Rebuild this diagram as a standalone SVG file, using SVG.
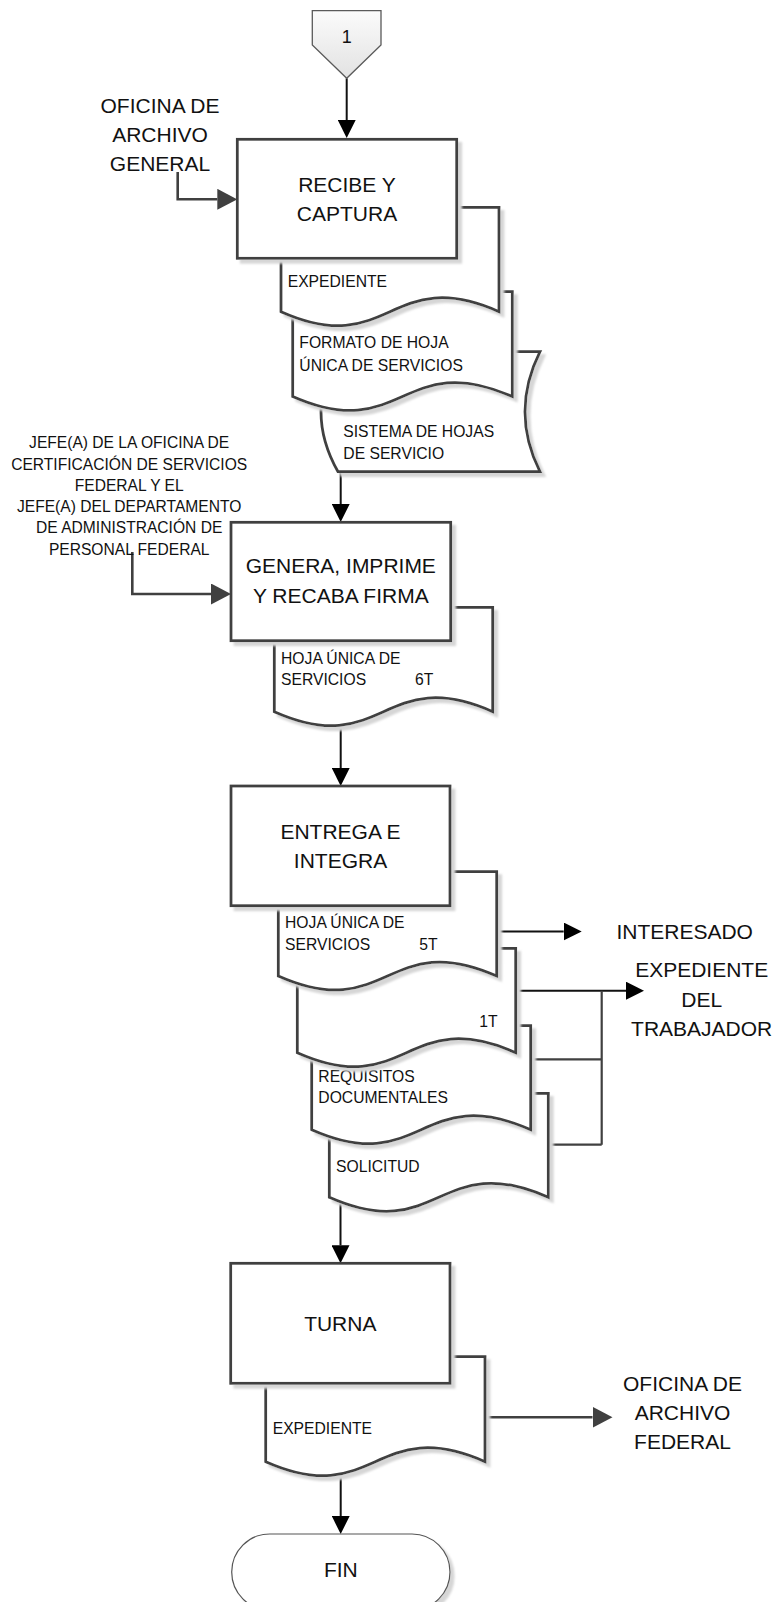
<svg xmlns="http://www.w3.org/2000/svg" width="778" height="1602" viewBox="0 0 778 1602">
<style>
text{font-family:"Liberation Sans",Arial,sans-serif;fill:#111}
.big{font-size:21px;text-anchor:middle}
.doc{font-size:15.7px}
.jefe{font-size:15.6px;text-anchor:middle}
.shape{fill:#fff;stroke:#404040;stroke-width:2.75;stroke-linejoin:miter;filter:url(#sh)}
.ln{fill:none;stroke:#111;stroke-width:2}
.lg{fill:none;stroke:#404040;stroke-width:2.6}
.lb{fill:none;stroke:#404040;stroke-width:2.2}
</style>
<defs>
<filter id="sh" x="-10%" y="-10%" width="130%" height="130%">
<feDropShadow dx="4" dy="4" stdDeviation="0.8" flood-color="#d6d6d6" flood-opacity="1"/>
</filter>
<linearGradient id="og" x1="0" y1="0" x2="0" y2="1">
<stop offset="0" stop-color="#fbfbfb"/>
<stop offset="1" stop-color="#e2e2e2"/>
</linearGradient>
<marker id="ab" viewBox="0 0 18 18" refX="0" refY="9" markerWidth="18" markerHeight="18" markerUnits="userSpaceOnUse" orient="auto">
<path d="M0,0 L18,9 L0,18 Z" fill="#000"/>
</marker>
<marker id="ag" viewBox="0 0 20 21" refX="0" refY="10.5" markerWidth="20" markerHeight="21" markerUnits="userSpaceOnUse" orient="auto">
<path d="M0,0 L20,10.5 L0,21 Z" fill="#404040"/>
</marker>
</defs>
<rect width="778" height="1602" fill="#fff"/>

<g id="connectors">
<path class="ln" d="M346.7,78.3 V120" marker-end="url(#ab)"/>
<path class="lg" d="M177.7,172 V199.3 H217.3" marker-end="url(#ag)"/>
<path class="ln" d="M340.7,471.7 V504" marker-end="url(#ab)"/>
<path class="lg" d="M132.3,552 V594 H211" marker-end="url(#ag)"/>
<path class="ln" d="M340.7,724 V768" marker-end="url(#ab)"/>
<path class="ln" d="M496.7,931.5 H563.7" marker-end="url(#ab)"/>
<path class="ln" d="M515.7,990.7 H626" marker-end="url(#ab)"/>
<path class="lb" d="M601.7,990.7 V1144.7 M530.7,1059.3 H601.7 M548.3,1144.7 H601.7"/>
<path class="ln" d="M340.5,1203 V1245.3" marker-end="url(#ab)"/>
<path class="lg" d="M485,1417.3 H592.5" marker-end="url(#ag)"/>
<path class="ln" d="M340.7,1475 V1516" marker-end="url(#ab)"/>
</g>

<g id="offpage-1">
<path d="M312.3,10.7 H381 V45 L346.7,78.3 L312.3,45 Z" fill="url(#og)" stroke="#5a5a5a" stroke-width="1.3"/>
<text x="346.7" y="43.3" style="font-size:18px;text-anchor:middle">1</text>
</g>

<g id="label-oficina-general">
<text class="big" x="160" y="113.3">OFICINA DE</text>
<text class="big" x="160" y="142">ARCHIVO</text>
<text class="big" x="160" y="170.7">GENERAL</text>
</g>

<g id="doc-sistema">
<path class="shape" d="M338,351.7 L540,351.7 Q510,411.7 540,471.7 L338,471.7 Q304,411.7 338,351.7 Z"/>
<text class="doc" x="343.3" y="437.3">SISTEMA DE HOJAS</text>
<text class="doc" x="343.3" y="459.3">DE SERVICIO</text>
</g>
<g id="doc-formato">
<path class="shape" d="M292.7,291.7 H512.3 V396.5 C402.5,348 402.5,445 292.7,396.5 Z"/>
<text class="doc" x="299.3" y="348.3">FORMATO DE HOJA</text>
<text class="doc" x="299.3" y="370.5">ÚNICA DE SERVICIOS</text>
</g>
<g id="doc-expediente-1">
<path class="shape" d="M281,207.3 H499 V311.7 C390,263.2 390,360.2 281,311.7 Z"/>
<text class="doc" x="287.7" y="286.7">EXPEDIENTE</text>
</g>
<g id="proc-recibe">
<rect class="shape" x="237.3" y="139.3" width="219.4" height="119"/>
<text class="big" x="347" y="191.7">RECIBE Y</text>
<text class="big" x="347" y="220.7">CAPTURA</text>
</g>

<g id="label-jefe">
<text class="jefe" x="129.2" y="448.3">JEFE(A) DE LA OFICINA DE</text>
<text class="jefe" x="129.2" y="469.5">CERTIFICACIÓN DE SERVICIOS</text>
<text class="jefe" x="129.2" y="490.8">FEDERAL Y EL</text>
<text class="jefe" x="129.2" y="512.1">JEFE(A) DEL DEPARTAMENTO</text>
<text class="jefe" x="129.2" y="533.4">DE ADMINISTRACIÓN DE</text>
<text class="jefe" x="129.2" y="554.7">PERSONAL FEDERAL</text>
</g>

<g id="doc-hoja-6t">
<path class="shape" d="M274.3,607.3 H492.7 V711.7 C383.5,663.2 383.5,760.2 274.3,711.7 Z"/>
<text class="doc" x="281" y="664">HOJA ÚNICA DE</text>
<text class="doc" x="281" y="685">SERVICIOS</text>
<text class="doc" x="415" y="685">6T</text>
</g>
<g id="proc-genera">
<rect class="shape" x="231" y="522.3" width="219.7" height="118.4"/>
<text class="big" x="340.8" y="573.3">GENERA, IMPRIME</text>
<text class="big" x="340.8" y="602.7">Y RECABA FIRMA</text>
</g>

<g id="doc-solicitud">
<path class="shape" d="M329.3,1093.3 H548.3 V1197.3 C438.8,1148.8 438.8,1245.8 329.3,1197.3 Z"/>
<text class="doc" x="336" y="1171.7">SOLICITUD</text>
</g>
<g id="doc-requisitos">
<path class="shape" d="M311.7,1025.7 H530.7 V1129.7 C421.2,1081.2 421.2,1178.2 311.7,1129.7 Z"/>
<text class="doc" x="318.3" y="1081.7">REQUISITOS</text>
<text class="doc" x="318.3" y="1102.7">DOCUMENTALES</text>
</g>
<g id="doc-1t">
<path class="shape" d="M297.3,948.3 H515.7 V1052.7 C406.5,1004.2 406.5,1101.2 297.3,1052.7 Z"/>
<text class="doc" x="479.3" y="1026.7">1T</text>
</g>
<g id="doc-hoja-5t">
<path class="shape" d="M278.3,871.7 H496.7 V976 C387.5,927.5 387.5,1024.5 278.3,976 Z"/>
<text class="doc" x="285" y="928.3">HOJA ÚNICA DE</text>
<text class="doc" x="285" y="950">SERVICIOS</text>
<text class="doc" x="419.3" y="950">5T</text>
</g>
<g id="proc-entrega">
<rect class="shape" x="231" y="786" width="219" height="119.7"/>
<text class="big" x="340.5" y="839">ENTREGA E</text>
<text class="big" x="340.5" y="867.7">INTEGRA</text>
</g>

<g id="label-interesado">
<text class="big" x="684.7" y="939">INTERESADO</text>
</g>
<g id="label-expediente-trabajador">
<text class="big" x="701.7" y="977.3">EXPEDIENTE</text>
<text class="big" x="701.7" y="1006.7">DEL</text>
<text class="big" x="701.7" y="1035.7">TRABAJADOR</text>
</g>

<g id="doc-expediente-2">
<path class="shape" d="M265.7,1356.7 H485 V1461.7 C375.3,1413.2 375.3,1510.2 265.7,1461.7 Z"/>
<text class="doc" x="272.7" y="1434.3">EXPEDIENTE</text>
</g>
<g id="proc-turna">
<rect class="shape" x="230.7" y="1263.3" width="219.3" height="120"/>
<text class="big" x="340.3" y="1330.7">TURNA</text>
</g>

<g id="label-oficina-federal">
<text class="big" x="682.5" y="1390.7">OFICINA DE</text>
<text class="big" x="682.5" y="1420">ARCHIVO</text>
<text class="big" x="682.5" y="1449">FEDERAL</text>
</g>

<g id="term-fin">
<rect x="231.7" y="1534" width="218.3" height="76" rx="38" ry="38" fill="#fff" stroke="#555" stroke-width="1.2" filter="url(#sh)"/>
<text class="big" x="340.8" y="1577.3">FIN</text>
</g>
</svg>
